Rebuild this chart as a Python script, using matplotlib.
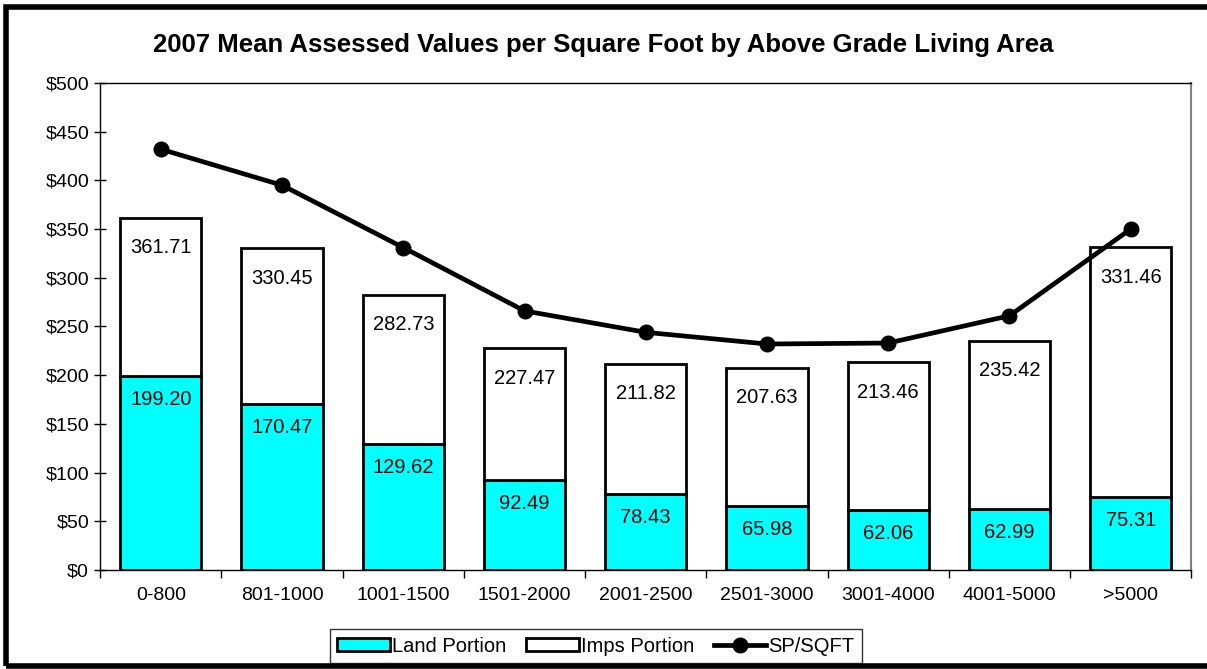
import matplotlib.pyplot as plt
from matplotlib.patches import Rectangle
import numpy as np

plt.rcParams['font.family'] = ['Liberation Sans', 'DejaVu Sans']

categories = ['0-800', '801-1000', '1001-1500', '1501-2000', '2001-2500',
              '2501-3000', '3001-4000', '4001-5000', '>5000']
land = [199.20, 170.47, 129.62, 92.49, 78.43, 65.98, 62.06, 62.99, 75.31]
total = [361.71, 330.45, 282.73, 227.47, 211.82, 207.63, 213.46, 235.42, 331.46]
sp_sqft = [432, 395, 331, 266, 244, 232, 233, 261, 350]

imps = [t - l for t, l in zip(total, land)]
x = np.arange(len(categories))

fig = plt.figure(figsize=(12.07, 6.69), dpi=100)
ax = fig.add_axes([0.083, 0.148, 0.904, 0.728])

w = 0.67
b1 = ax.bar(x, land, w, color='#00FFFF', edgecolor='black', linewidth=2, label='Land Portion', zorder=2)
b2 = ax.bar(x, imps, w, bottom=land, color='white', edgecolor='black', linewidth=2, label='Imps Portion', zorder=2)
ln, = ax.plot(x, sp_sqft, '-o', color='black', lw=3.4, ms=10.5, label='SP/SQFT', zorder=4)

for i in range(len(x)):
    ax.annotate(f'{land[i]:.2f}', (x[i], land[i]), xytext=(0, -24), textcoords='offset pixels',
                ha='center', va='center', fontsize=14.5, zorder=3)
    ax.annotate(f'{total[i]:.2f}', (x[i], total[i]), xytext=(0, -30), textcoords='offset pixels',
                ha='center', va='center', fontsize=14.5, zorder=3)

ax.set_xlim(-0.5, len(x) - 0.5)
ax.set_ylim(0, 500)
ax.set_yticks(np.arange(0, 501, 50))
ax.set_yticklabels([f'${v}' for v in range(0, 501, 50)])
ax.set_xticks(x)
ax.set_xticklabels(categories)
ax.set_xticks(np.arange(-0.5, len(x), 1), minor=True)
ax.tick_params(axis='x', which='major', length=0, labelsize=14, pad=12)
ax.tick_params(axis='x', which='minor', length=6, direction='out', width=1)
ax.tick_params(axis='y', length=8, direction='inout', width=1, labelsize=14, pad=4)

ax.spines['right'].set_color('#808080')
ax.spines['right'].set_linewidth(1.5)
for s in ['left', 'bottom', 'top']:
    ax.spines[s].set_linewidth(1)

fig.text(0.5, 1 - 45 / 669, '2007 Mean Assessed Values per Square Foot by Above Grade Living Area',
         fontsize=18.5, fontweight='bold', ha='center', va='center')

leg = fig.legend([b1, b2, ln], ['Land Portion', 'Imps Portion', 'SP/SQFT'],
                 loc='center', bbox_to_anchor=(596 / 1207, 1 - 646 / 669), ncol=3, fontsize=14.5,
                 frameon=True, fancybox=False, edgecolor='black', handlelength=2.6,
                 handleheight=0.6, handletextpad=0.1, columnspacing=1.0, borderpad=0.35)
leg.get_frame().set_linewidth(1)

fig.patches.append(Rectangle((0.005, 0.005), 1.2, 0.985, transform=fig.transFigure,
                             fill=False, edgecolor='black', linewidth=4))

fig.savefig('out.png', dpi=100)
